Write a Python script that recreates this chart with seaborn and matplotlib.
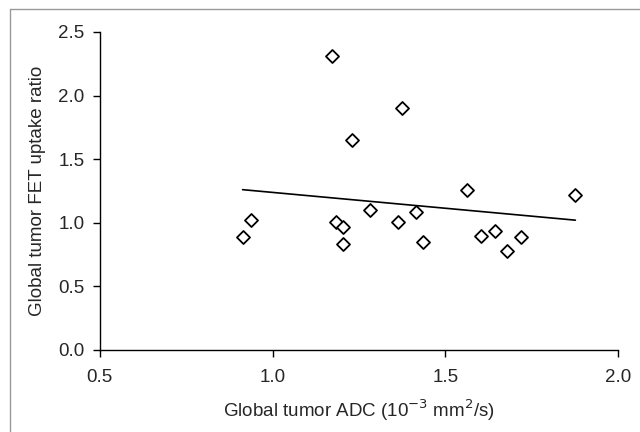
import numpy as np
import pandas as pd
import seaborn as sns
import matplotlib.pyplot as plt
from matplotlib.lines import Line2D

# Data
adc = [0.913, 0.937, 1.173, 1.183, 1.204, 1.204, 1.229, 1.282, 1.362,
       1.375, 1.414, 1.435, 1.561, 1.603, 1.644, 1.679, 1.718, 1.876]
fet_ratio = [0.891, 1.025, 2.308, 1.004, 0.967, 0.833, 1.651, 1.104, 1.007,
             1.901, 1.088, 0.852, 1.254, 0.896, 0.938, 0.775, 0.886, 1.220]
x_ticks = [0.5, 1.0, 1.5, 2.0]
y_ticks = [0.0, 0.5, 1.0, 1.5, 2.0, 2.5]

df = pd.DataFrame({'adc': adc, 'fet': fet_ratio})

sns.set_style('ticks')
plt.rcParams['font.family'] = ['Liberation Sans', 'DejaVu Sans']

fig = plt.figure(figsize=(6.4, 4.32), dpi=100)
ax = fig.add_axes([0.156, 0.19, 0.81, 0.736])

# Regression line over the data range
sns.regplot(data=df, x='adc', y='fet', ax=ax, ci=None, truncate=True,
            scatter=False, line_kws={'color': 'black', 'lw': 1.2})
sns.scatterplot(data=df, x='adc', y='fet', ax=ax, marker='D', s=44,
                facecolor='white', edgecolor='black', linewidth=1.3, zorder=3)

ax.set_xlim(0.5, 2.0)
ax.set_ylim(0.0, 2.5)
ax.set_xticks(x_ticks)
ax.set_yticks(y_ticks)
ax.set_xticklabels([f'{v:.1f}' for v in x_ticks])
ax.set_yticklabels([f'{v:.1f}' for v in y_ticks])
ax.tick_params(direction='out', length=5, width=1, labelsize=13.5,
               color='black')
ax.tick_params(axis='x', pad=9)
ax.tick_params(axis='y', pad=6)
for side in ['left', 'bottom']:
    ax.spines[side].set_color('black')
    ax.spines[side].set_linewidth(1)
sns.despine(ax=ax)

ax.set_xlabel('Global tumor ADC (10$^{-3}$ mm$^{2}$/s)', fontsize=13.5,
              labelpad=8)
ax.set_ylabel('Global tumor FET uptake ratio', fontsize=13.5, labelpad=9)

# Gray frame (left and top edges)
fig.add_artist(Line2D([10 / 640, 10 / 640], [0, 1 - 9 / 432],
                      transform=fig.transFigure, color='#999999', lw=1))
fig.add_artist(Line2D([10 / 640, 1], [1 - 9 / 432, 1 - 9 / 432],
                      transform=fig.transFigure, color='#999999', lw=1))

plt.savefig('out.png', dpi=100)
plt.close()
